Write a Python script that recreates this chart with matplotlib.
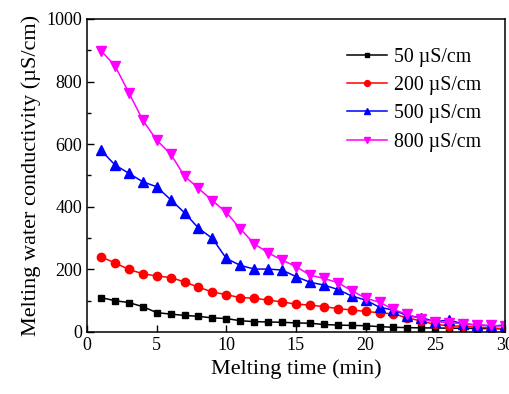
import matplotlib.pyplot as plt
from matplotlib.ticker import MultipleLocator

plt.rcParams['font.family'] = ['Liberation Serif', 'DejaVu Serif']

# melting time (min)
time = list(range(1, 31))

# conductivity of the melt water (uS/cm) for each initial level
c50 = [110, 100, 94, 81, 62, 57, 53, 50, 45, 43,
       36, 33, 32, 31, 29, 28, 24, 22, 21, 20,
       17, 15, 14, 13, 13, 12, 12, 11, 11, 10]
c200 = [240, 221, 200, 186, 179, 174, 160, 143, 128, 119,
        110, 108, 102, 96, 89, 86, 81, 75, 70, 66,
        61, 58, 45, 35, 24, 20, 18, 15, 13, 10]
c500 = [581, 534, 507, 480, 464, 423, 381, 332, 299, 235,
        213, 201, 201, 198, 177, 159, 150, 136, 115, 102,
        79, 70, 52, 46, 33, 38, 26, 23, 19, 22]
c800 = [899, 851, 765, 677, 613, 569, 498, 459, 420, 382,
        330, 282, 253, 230, 209, 182, 171, 158, 132, 108,
        95, 72, 56, 41, 33, 30, 26, 22, 21, 18]

labels = ['50 µS/cm', '200 µS/cm', '500 µS/cm', '800 µS/cm']

fig = plt.figure(figsize=(5.1, 3.94), dpi=100)
ax = fig.add_axes([0.1706, 0.1574, 0.8194, 0.7944])

ax.plot(time, c50, color='black', marker='s', ms=5, lw=1.1, label=labels[0])
ax.plot(time, c200, color='red', marker='o', ms=6, lw=1.1, label=labels[1])
ax.plot(time, c500, color='blue', marker='^', ms=6.5, lw=1.1, label=labels[2])
ax.plot(time, c800, color='magenta', marker='v', ms=6.5, lw=1.1, label=labels[3])

ax.set_xlim(0, 30)
ax.set_ylim(0, 1000)
ax.xaxis.set_major_locator(MultipleLocator(5))
ax.yaxis.set_major_locator(MultipleLocator(200))
ax.yaxis.set_minor_locator(MultipleLocator(100))
ax.tick_params(which='both', direction='in', labelsize=13)
ax.tick_params(which='major', length=5, width=1)
ax.tick_params(which='minor', length=3, width=1)
for s in ax.spines.values():
    s.set_linewidth(1.1)

ax.set_xlabel('Melting time (min)', fontsize=16)
ax.set_ylabel('Melting water conductivity (µS/cm)', fontsize=16)

ax.legend(loc='upper left', bbox_to_anchor=(0.622, 0.907), frameon=False,
          fontsize=14.3, handlelength=2.0, handletextpad=0.35,
          labelspacing=0.46, borderpad=0, borderaxespad=0, markerscale=0.7)

fig.savefig('out.png', dpi=100)
